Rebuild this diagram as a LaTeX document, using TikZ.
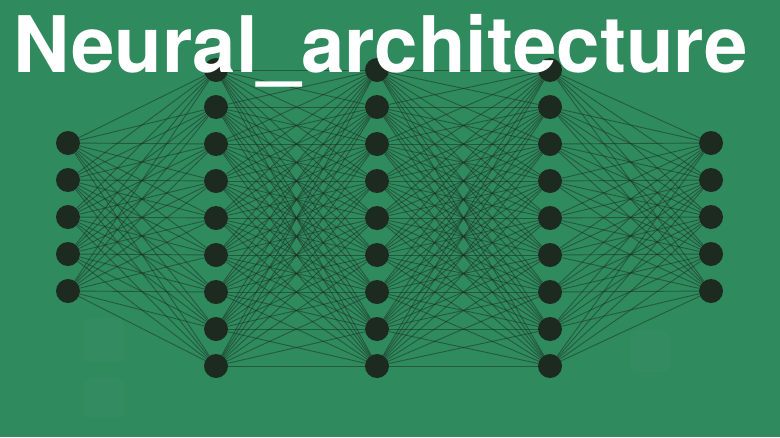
\documentclass[tikz,border=0pt]{standalone}
\usepackage{fontspec}
\setmainfont{TeX Gyre Heros}
\definecolor{bg}{HTML}{2F8A5E}
\definecolor{neuron}{HTML}{1C2A20}
\begin{document}
\begin{tikzpicture}[x=1pt,y=-1pt,
  neuronstyle/.style={circle,fill=neuron,minimum size=24pt,inner sep=0pt},
  edgestyle/.style={draw=neuron,line width=0.9pt,opacity=0.5},
  titlestyle/.style={text=white,font=\bfseries\fontsize{78}{84}\selectfont,inner sep=0pt,anchor=base west}]
\fill[bg] (0,0) rectangle (780,437);
\useasboundingbox (0,0) rectangle (780,437);
% faint background blobs
\fill[white,opacity=0.025,rounded corners=8pt] (84,318) rectangle (124,362);
\fill[white,opacity=0.025,rounded corners=8pt] (84,378) rectangle (124,418);
\fill[white,opacity=0.02,rounded corners=8pt] (630,330) rectangle (670,372);
% layers
\foreach \i in {1,...,5} {
  \node[neuronstyle] (a\i) at (68,{143+37*(\i-1)}) {};
  \node[neuronstyle] (e\i) at (711,{143+37*(\i-1)}) {};
}
\foreach \i in {1,...,9} {
  \node[neuronstyle] (b\i) at (216,{70+37*(\i-1)}) {};
  \node[neuronstyle] (c\i) at (377,{70+37*(\i-1)}) {};
  \node[neuronstyle] (d\i) at (550,{70+37*(\i-1)}) {};
}
\foreach \i in {1,...,5} \foreach \j in {1,...,9} {
  \draw[edgestyle] (a\i) -- (b\j);
  \draw[edgestyle] (d\j) -- (e\i);
}
\foreach \i in {1,...,9} \foreach \j in {1,...,9} {
  \draw[edgestyle] (b\i) -- (c\j);
  \draw[edgestyle] (c\i) -- (d\j);
}
\node[titlestyle] (title) at (13,72) {Neural\_architecture};
\end{tikzpicture}
\end{document}
